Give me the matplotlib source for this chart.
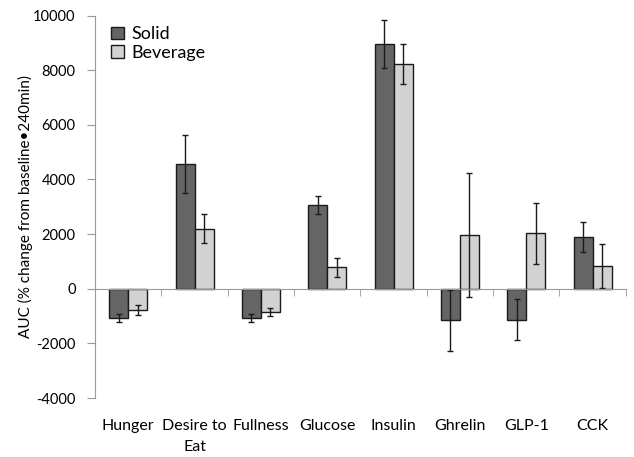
import matplotlib
matplotlib.use("Agg")
import matplotlib.pyplot as plt
import numpy as np

categories = ["Hunger", "Desire to\nEat", "Fullness", "Glucose", "Insulin", "Ghrelin", "GLP-1", "CCK"]
solid = [-1070, 4560, -1070, 3070, 8970, -1160, -1130, 1890]
solid_err = [140, 1050, 140, 330, 880, 1130, 750, 540]
beverage = [-770, 2200, -850, 780, 8220, 1970, 2030, 830]
beverage_err = [180, 530, 150, 340, 730, 2270, 1110, 790]
yticks = [-4000, -2000, 0, 2000, 4000, 6000, 8000, 10000]

plt.rcParams['font.family'] = ['Lato', 'DejaVu Sans']

fig = plt.figure(figsize=(6.34, 4.57), dpi=100)
ax = fig.add_axes([0.150, 0.129, 0.837, 0.837])

x = np.arange(len(categories))
w = 0.286
ax.bar(x - w/2, solid, w, color='#656565', edgecolor='#1a1a1a', linewidth=1.0,
       yerr=solid_err, error_kw=dict(ecolor='#1a1a1a', elinewidth=1.0, capsize=2, capthick=1.0), label='Solid', zorder=3)
ax.bar(x + w/2, beverage, w, color='#d2d2d2', edgecolor='#1a1a1a', linewidth=1.0,
       yerr=beverage_err, error_kw=dict(ecolor='#1a1a1a', elinewidth=1.0, capsize=2, capthick=1.0), label='Beverage', zorder=3)

ax.set_xlim(-0.5, len(categories) - 0.5)
ax.set_ylim(-4000, 10000)
ax.set_yticks(yticks)
ax.set_yticklabels([str(v) for v in yticks], fontsize=10.5)
ax.tick_params(axis='y', direction='out', length=6, color='#999999', pad=8)

ax.spines['top'].set_visible(False)
ax.spines['right'].set_visible(False)
ax.spines['left'].set_color('#999999')
ax.spines['bottom'].set_color('#999999')
ax.spines['bottom'].set_position(('data', 0))
ax.spines['bottom'].set_zorder(4)

ax.set_xticks(x)
ax.set_xticklabels(categories, fontsize=11.5, linespacing=1.6)
ax.set_xticks(np.arange(-0.5, len(categories), 1.0), minor=True)
ax.tick_params(axis='x', which='major', length=0, pad=94)
ax.tick_params(axis='x', which='minor', direction='out', length=5, color='#999999')

ax.set_ylabel("AUC (% change from baseline\u2022240min)", fontsize=11, labelpad=0)

leg = ax.legend(loc='upper left', bbox_to_anchor=(0.01, 1.0), frameon=False, fontsize=13,
                handlelength=0.7, handleheight=0.7, handletextpad=0.4, labelspacing=0.15, borderaxespad=0.2)

fig.savefig("out.png", dpi=100)
